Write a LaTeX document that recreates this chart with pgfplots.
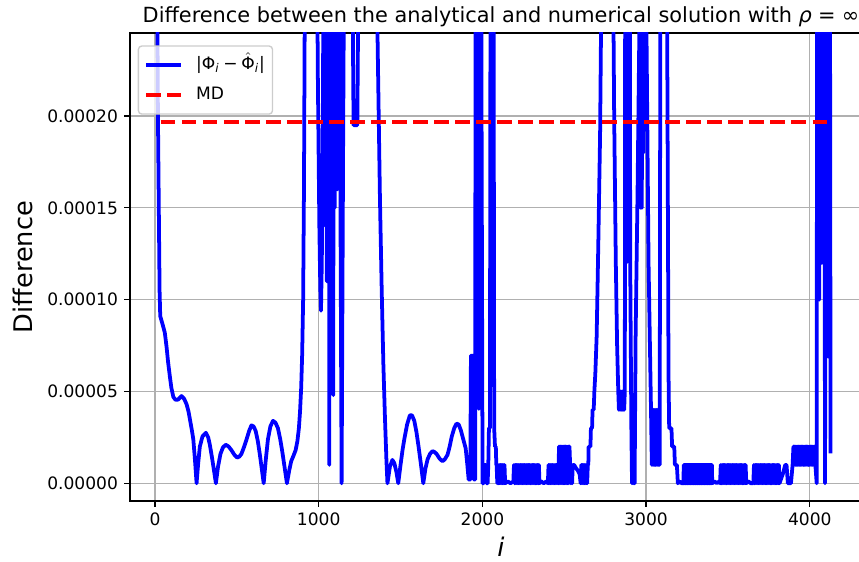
\documentclass[border=0pt]{standalone}
\usepackage{fontspec}
\setmainfont{DejaVu Sans}
\usepackage{pgfplots}
\pgfplotsset{compat=1.18}
\definecolor{mplgrid}{HTML}{B0B0B0}
\definecolor{legframe}{HTML}{CCCCCC}

\begin{document}
\begin{tikzpicture}
\begin{axis}[
  scale only axis, width=434.07pt, height=273.78pt,
  xmin=-152.7, xmax=4380, ymin=-0.965e-5, ymax=24.52e-5,
  xtick={0,1000,2000,3000,4000}, xticklabels={0,1000,2000,3000,4000},
  ytick={0,5e-5,10e-5,15e-5,20e-5},
  yticklabels={0.00000,0.00005,0.00010,0.00015,0.00020},
  scaled y ticks=false, scaled x ticks=false,
  /pgf/number format/assume math mode=true,
  grid=major, major grid style={mplgrid, line width=0.8pt},
  axis line style={line width=0.8pt},
  tick align=outside, tick pos=left, major tick length=3.5pt,
  tick style={black, line width=0.8pt},
  ticklabel style={font=\fontsize{10}{12}\selectfont},
  title={Difference between the analytical and numerical solution with \textit{ρ}\hspace{0.3em}=\hspace{0.3em}∞},
  title style={font=\fontsize{12.2}{14}\selectfont, at={(axis description cs:0.5,1)}, anchor=base},
  xlabel={\textit{i}}, ylabel={Difference},
  every axis x label/.style={at={(axis description cs:0.5,-0.098)}, anchor=center, font=\fontsize{15}{18}\selectfont},
  every axis y label/.style={at={(axis description cs:-0.1442,0.5)}, rotate=90, anchor=center, font=\fontsize{15}{18}\selectfont},
  legend style={at={(axis description cs:0.0104,0.9736)}, anchor=north west,
    draw=legframe, line width=0.8pt, fill=white, fill opacity=0.8, text opacity=1,
    rounded corners=2pt, font=\fontsize{10}{12}\selectfont,
    inner xsep=3.5pt, inner ysep=4.8pt, row sep=5.2pt, column sep=7pt,
    nodes={inner sep=1pt, text height=8pt, text depth=2.5pt}},
  legend cell align=left,
  legend image code/.code={\draw[#1] (0pt,0pt) -- (20pt,0pt);},
]
\addplot[blue, line width=2.2pt, line join=round] coordinates {
(0,50e-5) (18,20e-5) (28,10.5e-5) (32,9.1e-5) (45,8.7e-5) (60,8.2e-5) (71,7.4e-5) (80,6.6e-5)
(91,5.8e-5) (100,5.2e-5) (112,4.7e-5) (125,4.55e-5) (140,4.55e-5) (162,4.75e-5) (178,4.6e-5)
(193,4.3e-5) (205,3.9e-5) (213,3.5e-5) (225,2.9e-5) (234,2.4e-5) (244,1.3e-5) (254,0)
(264,1.1e-5) (274,2.0e-5) (290,2.55e-5) (311,2.75e-5) (325,2.5e-5) (335,2.1e-5) (350,1.3e-5)
(362,0.6e-5) (372,0) (385,0.9e-5) (400,1.6e-5) (415,1.95e-5) (432,2.1e-5) (450,2.0e-5)
(467,1.8e-5) (485,1.55e-5) (502,1.4e-5) (515,1.45e-5) (528,1.6e-5) (545,2.0e-5) (558,2.35e-5)
(575,2.85e-5) (589,3.15e-5) (602,3.1e-5) (615,2.85e-5) (628,2.3e-5) (640,1.6e-5) (652,0.8e-5)
(664,0) (677,1.3e-5) (690,2.4e-5) (705,3.1e-5) (721,3.4e-5) (736,3.3e-5) (751,3.0e-5)
(765,2.4e-5) (778,1.7e-5) (792,0.85e-5) (806,0) (820,0.7e-5) (832,1.2e-5) (846,1.5e-5)
(859,1.8e-5) (870,2.3e-5) (879,3.0e-5) (886,3.9e-5) (893,5.2e-5) (899,7.0e-5) (905,10e-5)
(910,16e-5) (914,24e-5) (920,45e-5)
(950,70e-5) (985,35e-5) (995,22e-5) (1004,14e-5) (1010,10.5e-5) (1014,9.4e-5) (1019,12e-5)
(1026,20e-5) (1034,45e-5)
(1038,60e-5) (1042,14e-5) (1046,60e-5) (1050,11e-5) (1054,60e-5) (1058,16e-5) (1062,60e-5)
(1065,1.0e-5) (1068,60e-5) (1072,13e-5) (1076,60e-5) (1080,18e-5) (1084,60e-5) (1089,4.8e-5)
(1094,60e-5) (1098,15e-5) (1102,60e-5) (1106,20e-5) (1110,60e-5) (1114,16e-5) (1118,60e-5)
(1124,40e-5) (1133,15e-5) (1140,0) (1149,18e-5) (1156,30e-5) (1165,50e-5)
(1190,60e-5) (1206,28e-5) (1213,19.5e-5) (1236,19.5e-5) (1243,28e-5) (1260,60e-5)
(1320,70e-5) (1350,32e-5) (1360,24e-5) (1374,15.6e-5) (1385,10.5e-5) (1395,6.5e-5)
(1405,3.5e-5) (1414,1.2e-5) (1420,0) (1435,0.9e-5) (1450,1.27e-5) (1462,1.1e-5) (1475,0.6e-5)
(1486,0) (1500,1.0e-5) (1512,1.8e-5) (1523,2.4e-5) (1540,3.2e-5) (1557,3.7e-5) (1570,3.7e-5)
(1584,3.4e-5) (1597,2.8e-5) (1610,2.0e-5) (1625,1.0e-5) (1639,0) (1652,0.8e-5) (1665,1.3e-5)
(1680,1.6e-5) (1695,1.75e-5) (1708,1.7e-5) (1720,1.6e-5) (1738,1.35e-5) (1756,1.2e-5)
(1770,1.3e-5) (1787,1.55e-5) (1800,2.0e-5) (1813,2.55e-5) (1828,3.0e-5) (1842,3.25e-5)
(1855,3.2e-5) (1868,2.9e-5) (1883,2.4e-5) (1898,1.9e-5) (1908,1.0e-5) (1916,0.2e-5)
(1926,0.2e-5) (1930,6.95e-5) (1944,6.95e-5) (1948,0.2e-5) (1956,0.2e-5)
(1960,55e-5) (1964,8e-5) (1968,55e-5) (1972,10e-5) (1976,55e-5) (1979,4.05e-5) (1983,55e-5)
(1987,12e-5) (1991,55e-5) (1995,20e-5) (2001,0) (2008,0)
(2012,1e-5) (2020,1e-5) (2026,0) (2032,0) (2036,1e-5) (2040,3e-5) (2046,3e-5) (2052,45e-5)
(2060,60e-5) (2066,45e-5) (2072,3e-5) (2077,2e-5) (2082,2e-5) (2085,1e-5)
(2087,1e-5) (2091,0) (2095,1e-5) (2099,0) (2103,1e-5) (2107,0) (2111,1e-5) (2115,0)
(2119,1e-5) (2123,0) (2127,1e-5) (2131,0) (2135,1e-5) (2139,0)
(2155,0.1e-5) (2172,0) (2189,0.1e-5)
(2193,1e-5) (2197,0) (2201,1e-5) (2205,0) (2209,1e-5) (2213,0) (2217,1e-5) (2221,0)
(2225,1e-5) (2229,0) (2233,1e-5) (2237,0) (2241,1e-5) (2245,0) (2249,1e-5) (2253,0)
(2257,1e-5) (2261,0) (2265,1e-5) (2269,0) (2273,1e-5) (2277,0) (2281,1e-5) (2285,0)
(2289,1e-5) (2293,0) (2297,1e-5) (2301,0) (2305,1e-5) (2309,0) (2313,1e-5) (2317,0)
(2321,1e-5) (2325,0) (2329,1e-5) (2333,0) (2337,1e-5) (2341,0) (2345,1e-5) (2349,0)
(2360,0.1e-5) (2375,0) (2390,0.1e-5) (2400,0)
(2404,1e-5) (2408,0) (2412,1e-5) (2416,0) (2420,1e-5) (2424,0) (2428,1e-5) (2432,0)
(2436,1e-5) (2440,0) (2444,1e-5) (2448,0) (2452,1e-5) (2456,0) (2460,1e-5) (2464,0)
(2468,2e-5) (2472,0) (2476,2e-5) (2480,0) (2484,2e-5) (2488,0) (2492,2e-5) (2496,0)
(2500,2e-5) (2504,0) (2508,2e-5) (2512,0) (2516,2e-5) (2520,0) (2524,2e-5) (2528,0)
(2532,2e-5) (2536,1e-5) (2540,0) (2544,1e-5) (2548,0) (2552,1e-5) (2560,1e-5)
(2570,0.85e-5) (2582,0.7e-5) (2594,0.5e-5)
(2600,0) (2604,1e-5) (2608,0) (2612,1e-5) (2616,0) (2620,1e-5) (2624,0) (2628,1e-5)
(2632,0) (2636,1e-5) (2640,0) (2644,1e-5) (2647,1e-5) (2649,2e-5)
(2660,2e-5) (2663,3e-5) (2670,3e-5) (2673,4e-5) (2680,4e-5) (2684,5e-5) (2690,6e-5)
(2698,8e-5) (2708,13e-5) (2719,19e-5) (2726,26e-5) (2745,60e-5)
(2775,70e-5) (2795,32e-5) (2805,20e-5) (2815,12e-5) (2823,7.5e-5) (2830,5e-5)
(2834,4e-5) (2838,5e-5) (2842,4e-5) (2846,5e-5) (2850,4e-5) (2854,5e-5) (2858,4e-5)
(2862,5e-5) (2866,4e-5) (2870,5e-5)
(2874,45e-5) (2878,12e-5) (2882,50e-5) (2886,14e-5) (2890,50e-5) (2894,18e-5) (2898,45e-5)
(2903,12e-5) (2910,3e-5) (2914,0) (2918,3e-5) (2922,0) (2926,3e-5) (2930,0)
(2936,8e-5) (2948,16e-5) (2958,24e-5)
(2962,50e-5) (2966,15e-5) (2970,50e-5) (2974,15e-5) (2978,50e-5) (2982,18e-5) (2986,50e-5)
(2990,22e-5) (2995,40e-5) (3003,24e-5) (3015,12e-5) (3030,4e-5) (3035,1e-5)
(3039,4e-5) (3043,1e-5) (3047,4e-5) (3051,1e-5) (3055,4e-5) (3059,1e-5) (3063,4e-5)
(3067,1e-5) (3071,4e-5) (3075,1e-5) (3079,4e-5) (3083,1e-5) (3090,45e-5)
(3105,60e-5) (3120,45e-5) (3130,22e-5) (3137,6e-5) (3141,3e-5) (3155,3e-5) (3159,2e-5)
(3172,2e-5) (3176,1e-5) (3188,1e-5) (3194,0)
(3205,0.1e-5) (3218,0) (3228,0)
(3230,1e-5) (3232,0) (3234,1e-5) (3236,0) (3238,1e-5) (3240,0) (3242,1e-5) (3244,0)
(3246,1e-5) (3248,0) (3250,1e-5) (3252,0) (3254,1e-5) (3256,0) (3258,1e-5) (3260,0)
(3262,1e-5) (3264,0) (3266,1e-5) (3268,0) (3270,1e-5) (3272,0) (3274,1e-5) (3276,0)
(3278,1e-5) (3280,0) (3282,1e-5) (3284,0) (3286,1e-5) (3288,0) (3290,1e-5) (3292,0)
(3294,1e-5) (3296,0) (3298,1e-5) (3300,0) (3302,1e-5) (3304,0) (3306,1e-5) (3308,0)
(3310,1e-5) (3312,0) (3314,1e-5) (3316,0) (3318,1e-5) (3320,0) (3322,1e-5) (3324,0)
(3326,1e-5) (3328,0) (3330,1e-5) (3332,0) (3334,1e-5) (3336,0) (3338,1e-5) (3340,0)
(3342,1e-5) (3344,0) (3346,1e-5) (3348,0) (3350,1e-5) (3352,0) (3354,1e-5) (3356,0)
(3358,1e-5) (3360,0) (3362,1e-5) (3364,0) (3366,1e-5) (3368,0) (3370,1e-5) (3372,0)
(3374,1e-5) (3376,0) (3378,1e-5) (3380,0) (3382,1e-5) (3384,0) (3386,1e-5) (3388,0)
(3390,1e-5) (3392,0) (3394,1e-5) (3396,0) (3398,1e-5) (3400,0) (3402,1e-5) (3404,0)
(3418,0.1e-5) (3432,0) (3446,0.1e-5) (3452,0)
(3456,1e-5) (3460,0) (3464,1e-5) (3468,0) (3472,1e-5) (3476,0) (3480,1e-5) (3484,0)
(3488,1e-5) (3492,0) (3496,1e-5) (3500,0) (3504,1e-5) (3508,0) (3512,1e-5) (3516,0)
(3520,1e-5) (3524,0) (3528,1e-5) (3532,0) (3536,1e-5) (3540,0) (3544,1e-5) (3548,0)
(3552,1e-5) (3556,0) (3560,1e-5) (3564,0) (3568,1e-5) (3572,0) (3576,1e-5) (3580,0)
(3584,1e-5) (3588,0) (3592,1e-5) (3596,0) (3600,1e-5) (3604,0) (3608,1e-5) (3612,0)
(3625,0.1e-5) (3640,0) (3655,0)
(3659,1e-5) (3663,0) (3667,1e-5) (3671,0) (3675,1e-5) (3679,0) (3683,1e-5) (3687,0)
(3691,1e-5) (3695,0) (3699,1e-5) (3703,0) (3707,1e-5) (3711,0) (3715,1e-5) (3719,0)
(3723,1e-5) (3727,0) (3731,1e-5) (3735,0) (3739,1e-5) (3743,0) (3747,1e-5) (3751,0)
(3755,1e-5) (3759,0) (3763,1e-5) (3767,0) (3771,1e-5) (3775,0) (3779,1e-5) (3783,0)
(3787,1e-5) (3791,0) (3795,1e-5) (3799,0) (3803,1e-5) (3807,0) (3811,1e-5) (3815,0)
(3835,0.5e-5) (3850,1e-5) (3858,1e-5) (3866,0) (3885,0) (3895,1e-5) (3900,2e-5)
(3904,1e-5) (3908,2e-5) (3912,1e-5) (3916,2e-5) (3920,1e-5) (3924,2e-5) (3928,1e-5)
(3932,2e-5) (3936,1e-5) (3940,2e-5) (3944,1e-5) (3948,2e-5) (3952,1e-5) (3956,2e-5)
(3960,1e-5) (3964,2e-5) (3968,1e-5) (3972,2e-5) (3976,1e-5) (3980,2e-5) (3984,1e-5)
(3988,2e-5) (3992,1e-5) (3996,2e-5) (4000,1e-5) (4004,2e-5) (4008,1e-5) (4012,2e-5)
(4016,1e-5) (4020,2e-5) (4024,1e-5) (4028,2e-5) (4034,1e-5) (4042,0)
(4046,45e-5) (4050,10e-5) (4054,55e-5) (4058,10e-5) (4062,55e-5) (4066,12e-5) (4070,55e-5)
(4074,12e-5) (4078,55e-5) (4082,15e-5) (4086,45e-5) (4093,0)
(4104,45e-5) (4111,6.9e-5) (4117,6.9e-5) (4121,45e-5) (4127,1.63e-5)
};
\addlegendentry{|Φ\textsubscript{\textit{i}}\hspace{0.22em}−\hspace{0.22em}$\hat{\hbox{Φ}}$\textsubscript{\textit{i}}|}
\addplot[red, line width=2.3pt, dash pattern=on 8.6pt off 3.7pt] coordinates {(35,1.965e-4) (4123,1.965e-4)};
\addlegendentry{MD}
\end{axis}
\pgfresetboundingbox
\useasboundingbox (-76.05pt,-35.685pt) rectangle (426.465pt,293.085pt);
\end{tikzpicture}
\end{document}
